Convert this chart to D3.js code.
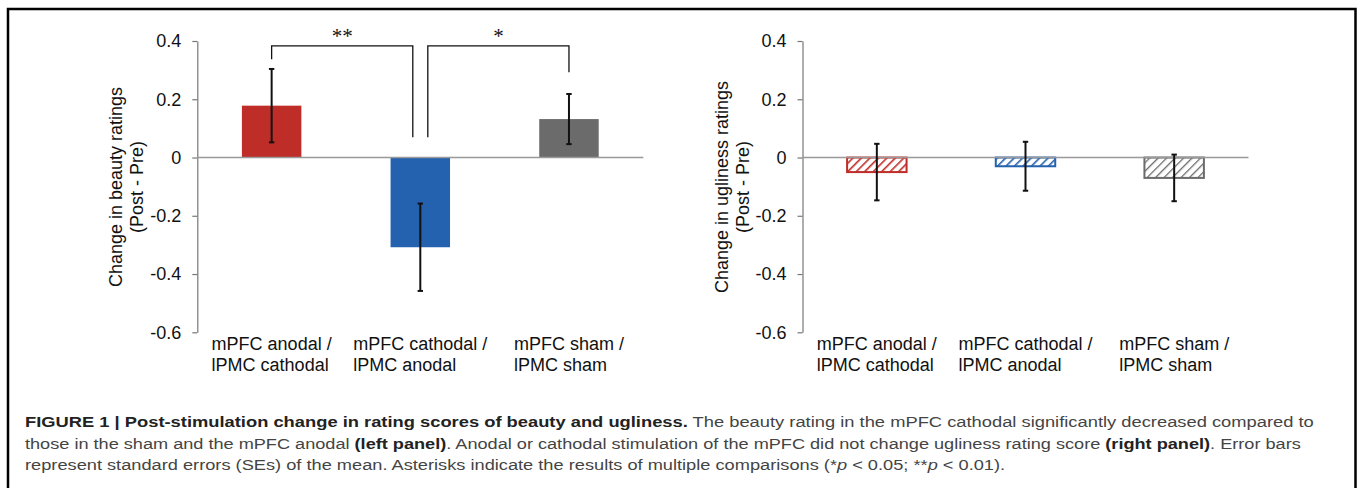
<!DOCTYPE html>
<html lang="en">
<head>
<meta charset="UTF-8">
<title>Post-stimulation change in rating scores</title>
<script src="https://d3js.org/d3.v7.min.js"></script>
<style>
  body { margin: 0; background: #fff; }
  svg { display: block; font-family: "Liberation Sans", Arial, sans-serif; }
</style>
</head>
<body>
<svg width="1357" height="488"></svg>
<script>
// ---- data ----
const categories = [
  ["mPFC anodal /", "lPMC cathodal"],
  ["mPFC cathodal /", "lPMC anodal"],
  ["mPFC sham /", "lPMC sham"]
];
const beautyMeans = [0.178, -0.308, 0.132];
const beautySE = [0.126, 0.150, 0.086];
const uglinessMeans = [-0.050, -0.030, -0.070];
const uglinessSE = [0.097, 0.084, 0.080];
const yTicks = [0.4, 0.2, 0, -0.2, -0.4, -0.6];
const barColors = ["#be2d27", "#2461ae", "#6b6b6b"];

// significance brackets (values in y units)
const comparisons = [
  { from: 0, to: 1, label: "**", top: 0.383, fromEnd: 0.337, toEnd: 0.07 },
  { from: 1, to: 2, label: "*", top: 0.383, fromEnd: 0.07, toEnd: 0.293 }
];

const captionLines = [
  [["b", "FIGURE 1 | Post-stimulation change in rating scores of beauty and ugliness."],
   ["n", " The beauty rating in the mPFC cathodal significantly decreased compared to"]],
  [["n", "those in the sham and the mPFC anodal "], ["b", "(left panel)"],
   ["n", ". Anodal or cathodal stimulation of the mPFC did not change ugliness rating score "],
   ["b", "(right panel)"], ["n", ". Error bars"]],
  [["n", "represent standard errors (SEs) of the mean. Asterisks indicate the results of multiple comparisons (*"],
   ["i", "p"], ["n", " < 0.05; **"], ["i", "p"], ["n", " < 0.01)."]]
];

const svg = d3.select("svg");

// outer frame
svg.append("path")
  .attr("d", "M8,490 L8,9 L1355.5,9 L1355.5,490")
  .attr("fill", "none")
  .attr("stroke", "#000")
  .attr("stroke-width", 2.5);

// hatch patterns for the right panel
const defs = svg.append("defs");
barColors.forEach((c, i) => {
  const p = defs.append("pattern")
    .attr("id", "hatch" + i)
    .attr("patternUnits", "userSpaceOnUse")
    .attr("width", 6).attr("height", 6)
    .attr("patternTransform", "rotate(45)");
  p.append("rect").attr("width", 6).attr("height", 6).attr("fill", "#fff");
  p.append("line")
    .attr("x1", 0).attr("y1", 0).attr("x2", 0).attr("y2", 6)
    .attr("stroke", c).attr("stroke-width", i === 2 ? 2.6 : 3.2);
});

const y = d3.scaleLinear().domain([-0.6, 0.4]).range([332.3, 41]);
const plotW = 446;

function drawPanel(x0, means, ses, title, hatched) {
  const g = svg.append("g");
  const x = d3.scaleBand().domain(d3.range(categories.length)).range([x0, x0 + plotW]);
  const bw = x.bandwidth() * 0.4;
  const cx = i => x(i) + x.bandwidth() / 2;

  // y axis
  const ax = g.append("g")
    .attr("transform", `translate(${x0},0)`)
    .call(d3.axisLeft(y).tickValues(yTicks).tickSize(5).tickSizeOuter(0).tickPadding(11)
      .tickFormat(d => String(+d.toFixed(1))));
  ax.select(".domain").attr("stroke", "#777").attr("stroke-width", 1.2);
  ax.selectAll(".tick line").attr("stroke", "#777").attr("stroke-width", 1.2);
  ax.selectAll(".tick text")
    .attr("fill", "#111")
    .style("font-size", "18px")
    .style("font-family", "'Liberation Sans', Arial, sans-serif");

  // bars
  g.selectAll("rect.bar")
    .data(means)
    .join("rect")
    .attr("class", "bar")
    .attr("x", (d, i) => cx(i) - bw / 2)
    .attr("y", d => y(Math.max(0, d)))
    .attr("width", bw)
    .attr("height", d => Math.abs(y(d) - y(0)))
    .attr("fill", (d, i) => hatched ? `url(#hatch${i})` : barColors[i])
    .attr("stroke", (d, i) => hatched ? barColors[i] : "none")
    .attr("stroke-width", 2);

  // zero line
  g.append("line")
    .attr("x1", x0).attr("x2", x0 + plotW)
    .attr("y1", y(0)).attr("y2", y(0))
    .attr("stroke", "#999").attr("stroke-width", 1.6);

  // error bars
  const eb = g.selectAll("g.err").data(means).join("g").attr("class", "err")
    .attr("stroke", "#111").attr("stroke-width", 2);
  eb.append("line")
    .attr("x1", (d, i) => cx(i)).attr("x2", (d, i) => cx(i))
    .attr("y1", (d, i) => y(d + ses[i])).attr("y2", (d, i) => y(d - ses[i]));
  eb.append("line")
    .attr("x1", (d, i) => cx(i) - 2.7).attr("x2", (d, i) => cx(i) + 2.7)
    .attr("y1", (d, i) => y(d + ses[i])).attr("y2", (d, i) => y(d + ses[i]));
  eb.append("line")
    .attr("x1", (d, i) => cx(i) - 2.7).attr("x2", (d, i) => cx(i) + 2.7)
    .attr("y1", (d, i) => y(d - ses[i])).attr("y2", (d, i) => y(d - ses[i]));

  // category labels: left-aligned block centred on the band
  categories.forEach((lines, i) => {
    const t = g.append("text")
      .attr("fill", "#111")
      .style("font-size", "18px");
    lines.forEach((s, k) => {
      t.append("tspan").attr("x", 0).attr("y", 350 + k * 21).text(s);
    });
    const w = t.node().getBBox().width;
    t.attr("transform", `translate(${cx(i) - w / 2},0)`);
  });

  // y title (two lines, rotated)
  const yt = g.append("text")
    .attr("transform", `translate(${x0 - 75},187) rotate(-90)`)
    .attr("text-anchor", "middle")
    .attr("fill", "#111")
    .style("font-size", "18px");
  yt.append("tspan").attr("x", 0).attr("y", 0).text(title);
  yt.append("tspan").attr("x", 0).attr("y", 21).text("(Post - Pre)");

  return { cx };
}

const left = drawPanel(197.3, beautyMeans, beautySE, "Change in beauty ratings", false);
drawPanel(802.5, uglinessMeans, uglinessSE, "Change in ugliness ratings", true);

// significance brackets on the left panel
const gap = 7.5;
comparisons.forEach(c => {
  const xa = left.cx(c.from) + (c.from === 1 ? gap : 0);
  const xb = left.cx(c.to) - (c.to === 1 ? gap : 0);
  svg.append("path")
    .attr("d", `M${xa},${y(c.fromEnd)} L${xa},${y(c.top)} L${xb},${y(c.top)} L${xb},${y(c.toEnd)}`)
    .attr("fill", "none")
    .attr("stroke", "#111")
    .attr("stroke-width", 1.3);
  svg.append("text")
    .attr("x", (xa + xb) / 2)
    .attr("y", 43)
    .attr("text-anchor", "middle")
    .attr("fill", "#111")
    .style("font-family", "'Liberation Serif', 'Times New Roman', serif")
    .style("font-size", "21px")
    .text(c.label);
});

// caption
const captionTargets = [1289, 1277, 981];
captionLines.forEach((segs, li) => {
  const t = svg.append("text")
    .attr("x", 0).attr("y", 0)
    .attr("fill", "#444")
    .style("font-size", "15.5px");
  segs.forEach(([st, s]) => {
    const ts = t.append("tspan").text(s);
    if (st === "b") ts.attr("font-weight", "bold").attr("fill", "#222");
    if (st === "i") ts.attr("font-style", "italic");
  });
  const w = t.node().getComputedTextLength();
  t.attr("transform", `translate(25,${427 + li * 21.5}) scale(${captionTargets[li] / w},1)`);
});
</script>
</body>
</html>
